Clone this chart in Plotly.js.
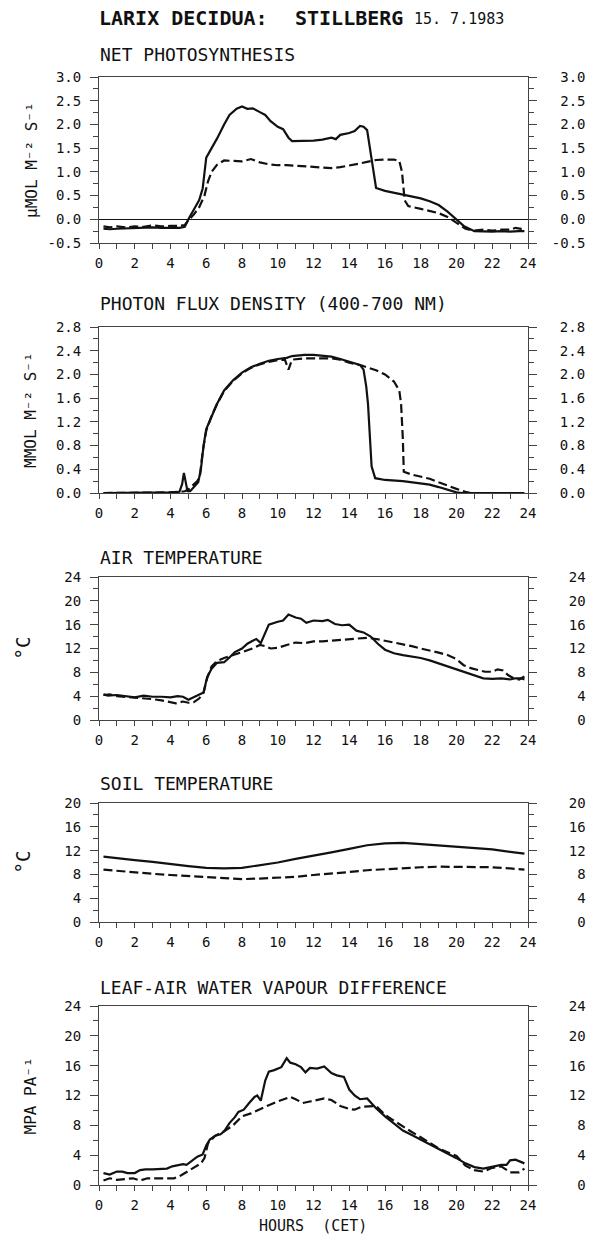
<!DOCTYPE html>
<html><head><meta charset="utf-8">
<script src="https://cdn.plot.ly/plotly-3.0.1.min.js"></script>
<style>html,body{margin:0;padding:0;background:#fff}</style>
</head><body>
<div id="chart" style="width:596px;height:1240px"></div>
<script>
// ---------- DATA ----------
const hourTickVals = [0,2,4,6,8,10,12,14,16,18,20,22,24];
const hourTickText = ['0','2','4','6','8','10','12','14','16','18','20','22','24'];

const netPhotoTickVals = [-0.5,0,0.5,1,1.5,2,2.5,3];
const netPhotoTickText = ['-0.5','0.0','0.5','1.0','1.5','2.0','2.5','3.0'];
const pfdTickVals = [0,0.4,0.8,1.2,1.6,2.0,2.4,2.8];
const pfdTickText = ['0.0','0.4','0.8','1.2','1.6','2.0','2.4','2.8'];
const airTickVals = [0,4,8,12,16,20,24];
const airTickText = ['0','4','8','12','16','20','24'];
const soilTickVals = [0,4,8,12,16,20];
const soilTickText = ['0','4','8','12','16','20'];
const vpdTickVals = [0,4,8,12,16,20,24];
const vpdTickText = ['0','4','8','12','16','20','24'];

// [hour, value]
const netPhotoSolid = [[0.25,-0.2],[0.6,-0.21],[1,-0.2],[1.5,-0.19],[2,-0.19],[2.5,-0.18],[3,-0.17],[3.5,-0.18],[4,-0.18],[4.5,-0.18],[4.8,-0.16],[5.0,0.0],[5.3,0.2],[5.6,0.4],[5.8,0.65],[6.0,1.3],[6.3,1.5],[6.6,1.7],[7.0,2.0],[7.3,2.2],[7.7,2.33],[8.0,2.38],[8.3,2.33],[8.6,2.34],[9.0,2.26],[9.3,2.2],[9.6,2.07],[10.0,1.95],[10.3,1.9],[10.6,1.72],[10.8,1.65],[11.2,1.65],[11.6,1.66],[12.0,1.66],[12.5,1.68],[13.0,1.72],[13.25,1.69],[13.5,1.78],[14.0,1.82],[14.3,1.86],[14.6,1.97],[14.8,1.95],[15.0,1.88],[15.2,1.35],[15.5,0.66],[16.0,0.6],[16.5,0.56],[17.0,0.52],[17.5,0.48],[18.0,0.44],[18.5,0.38],[19.0,0.3],[19.5,0.16],[19.9,0.02],[20.4,-0.14],[21.0,-0.25],[21.5,-0.26],[22.0,-0.26],[22.5,-0.25],[23.0,-0.26],[23.5,-0.25],[23.8,-0.25]];
const netPhotoDashed = [[0.25,-0.15],[0.6,-0.17],[1,-0.15],[1.5,-0.17],[2,-0.15],[2.5,-0.16],[3,-0.13],[3.5,-0.15],[4,-0.14],[4.5,-0.14],[4.8,-0.12],[5.0,-0.02],[5.3,0.1],[5.6,0.25],[5.9,0.5],[6.1,0.8],[6.3,1.0],[6.6,1.15],[7.0,1.24],[7.5,1.23],[8.0,1.22],[8.5,1.27],[9.0,1.2],[9.5,1.16],[10.0,1.14],[10.5,1.14],[11.0,1.13],[11.5,1.12],[12.0,1.11],[12.5,1.09],[13.0,1.08],[13.5,1.1],[14.0,1.13],[14.5,1.17],[15.0,1.21],[15.5,1.25],[16.0,1.26],[16.5,1.26],[16.8,1.23],[16.95,1.0],[17.1,0.4],[17.3,0.28],[18.0,0.22],[18.5,0.18],[19.0,0.13],[19.5,0.05],[20.0,-0.07],[20.5,-0.2],[21.0,-0.24],[21.5,-0.22],[22.0,-0.24],[22.5,-0.22],[23.0,-0.22],[23.3,-0.18],[23.6,-0.2],[23.8,-0.17]];

const pfdSolid = [[0.25,0],[2,0],[3,0.01],[4,0.01],[4.5,0.02],[4.65,0.15],[4.75,0.34],[4.85,0.15],[4.95,0.03],[5.1,0.03],[5.3,0.1],[5.55,0.18],[5.7,0.4],[5.85,0.8],[6.0,1.08],[6.3,1.3],[6.6,1.5],[7.0,1.73],[7.5,1.9],[8.0,2.03],[8.5,2.12],[9.0,2.18],[9.5,2.23],[10.0,2.26],[10.5,2.28],[10.8,2.31],[11.5,2.33],[12.0,2.33],[12.5,2.32],[13.0,2.3],[13.5,2.26],[14.0,2.21],[14.6,2.16],[14.8,2.08],[14.95,1.8],[15.05,1.5],[15.15,0.9],[15.25,0.45],[15.45,0.25],[16.0,0.22],[17.0,0.2],[18.0,0.16],[18.5,0.14],[19.0,0.1],[19.5,0.05],[20.0,0.01],[20.3,0],[23.8,0]];
const pfdDashed = [[0.25,0],[2,0],[3,0.01],[4,0.01],[4.5,0.02],[4.8,0.03],[5.0,0.06],[5.2,0.12],[5.5,0.2],[5.65,0.3],[5.8,0.7],[6.0,1.05],[6.3,1.3],[6.6,1.5],[7.0,1.72],[7.5,1.89],[8.0,2.02],[8.5,2.11],[9.0,2.17],[9.5,2.21],[10.0,2.24],[10.4,2.25],[10.6,2.08],[10.8,2.25],[11.5,2.27],[12.0,2.27],[13.0,2.27],[13.5,2.25],[14.0,2.2],[14.7,2.15],[15.5,2.07],[16.0,2.0],[16.5,1.88],[16.8,1.73],[16.9,1.5],[17.0,0.9],[17.05,0.36],[17.5,0.31],[18.0,0.28],[18.5,0.24],[19.0,0.18],[19.5,0.12],[20.0,0.07],[20.5,0.02],[20.8,0],[23.8,0]];

const airSolid = [[0.25,4.3],[0.5,4.1],[1,4.2],[1.5,4.0],[2,3.8],[2.5,4.1],[3,3.9],[3.5,3.9],[4,3.8],[4.4,4.0],[4.7,3.9],[5.0,3.4],[5.3,3.8],[5.6,4.3],[5.85,4.6],[6.05,7.2],[6.3,8.6],[6.6,9.6],[7.0,9.7],[7.3,10.5],[7.6,11.4],[8.0,12.0],[8.3,12.8],[8.6,13.3],[8.8,13.6],[9.05,12.9],[9.5,16.0],[10.0,16.5],[10.3,16.7],[10.6,17.7],[11.0,17.2],[11.3,17.0],[11.6,16.3],[12.0,16.7],[12.5,16.6],[12.8,16.8],[13.2,16.1],[13.6,15.9],[14.0,16.0],[14.4,15.0],[14.8,14.7],[15.2,14.0],[15.6,12.8],[16.0,11.8],[16.5,11.2],[17.0,10.9],[17.5,10.7],[18.0,10.4],[18.5,10.0],[19.0,9.5],[19.5,9.0],[20.0,8.5],[20.5,8.0],[21.0,7.5],[21.5,7.0],[22.0,6.9],[22.5,7.0],[23.0,6.8],[23.3,7.0],[23.6,7.0],[23.8,6.8]];
const airDashed = [[0.25,4.2],[0.6,4.3],[1,4.0],[1.5,3.9],[2,3.7],[2.5,3.6],[3,3.5],[3.5,3.3],[4,3.0],[4.3,2.8],[4.7,3.1],[5.0,2.9],[5.3,3.0],[5.6,3.6],[5.85,4.6],[6.05,7.0],[6.3,9.0],[6.6,9.9],[7.0,10.4],[7.5,10.9],[8.0,11.4],[8.5,11.9],[9.0,12.6],[9.3,12.4],[9.6,12.0],[10.0,12.1],[10.5,12.6],[11.0,13.0],[11.5,12.9],[12.0,13.2],[12.5,13.2],[13.0,13.3],[13.5,13.4],[14.0,13.6],[14.5,13.7],[15.0,13.8],[15.5,13.6],[16.0,13.3],[16.5,13.0],[17.0,12.8],[17.5,12.4],[18.0,12.0],[18.5,11.7],[19.0,11.3],[19.5,10.9],[20.0,10.2],[20.4,9.2],[20.8,8.7],[21.2,8.4],[21.6,8.1],[22.0,8.1],[22.3,8.5],[22.6,8.3],[22.9,7.5],[23.2,7.0],[23.5,6.8],[23.8,7.3]];

const soilSolid = [[0.25,11.0],[1,10.7],[2,10.4],[3,10.1],[4,9.7],[5,9.4],[6,9.1],[7,9.0],[8,9.1],[9,9.5],[10,10.0],[11,10.6],[12,11.1],[13,11.7],[14,12.3],[15,12.9],[16,13.2],[17,13.3],[18,13.1],[19,12.9],[20,12.7],[21,12.5],[22,12.2],[23,11.8],[23.8,11.5]];
const soilDashed = [[0.25,8.8],[1,8.6],[2,8.3],[3,8.1],[4,7.9],[5,7.7],[6,7.5],[7,7.3],[8,7.2],[9,7.3],[10,7.4],[11,7.6],[12,7.9],[13,8.1],[14,8.4],[15,8.7],[16,8.9],[17,9.1],[18,9.2],[19,9.3],[20,9.3],[21,9.3],[22,9.2],[23,9.0],[23.8,8.8]];

const vpdSolid = [[0.25,1.6],[0.6,1.4],[1.0,1.8],[1.3,1.8],[1.6,1.6],[2.0,1.6],[2.3,2.0],[2.6,2.1],[3.0,2.1],[3.5,2.1],[3.8,2.2],[4.1,2.5],[4.4,2.7],[4.7,2.8],[4.9,2.7],[5.2,3.3],[5.5,3.8],[5.8,4.1],[6.0,5.3],[6.2,6.1],[6.5,6.6],[6.8,6.8],[7.0,7.2],[7.3,8.3],[7.6,9.1],[7.8,9.8],[8.1,10.1],[8.4,11.0],[8.7,11.8],[8.85,12.0],[9.05,11.3],[9.3,14.0],[9.5,15.2],[9.8,15.4],[10.2,15.8],[10.5,17.0],[10.7,16.4],[11.0,16.2],[11.3,15.8],[11.55,15.1],[11.8,15.7],[12.2,15.6],[12.6,15.9],[13.0,15.0],[13.3,14.7],[13.7,14.5],[14.0,12.8],[14.3,12.0],[14.6,11.5],[15.0,11.6],[15.5,10.3],[16.0,9.2],[16.5,8.2],[17.0,7.3],[17.5,6.7],[18.0,6.1],[18.5,5.5],[19.0,4.8],[19.5,4.2],[20.0,3.6],[20.5,2.9],[21.0,2.4],[21.5,2.2],[22.0,2.4],[22.5,2.7],[22.8,2.7],[23.0,3.3],[23.3,3.4],[23.6,3.1],[23.8,2.9]];
const vpdDashed = [[0.25,0.6],[0.6,0.9],[1.0,0.7],[1.5,0.8],[1.9,0.9],[2.3,0.6],[2.7,0.9],[3.2,0.9],[3.7,0.9],[4.2,0.9],[4.6,1.3],[5.0,1.9],[5.4,2.4],[5.7,2.9],[5.9,3.6],[6.1,5.6],[6.5,6.6],[7.0,7.2],[7.5,8.0],[8.0,9.2],[8.5,9.6],[9.0,10.2],[9.5,10.7],[10.0,11.2],[10.4,11.5],[10.7,11.8],[11.0,11.5],[11.4,11.0],[11.8,11.2],[12.2,11.4],[12.6,11.6],[13.0,11.4],[13.5,10.6],[14.0,10.2],[14.3,10.1],[14.7,10.5],[15.0,10.5],[15.5,10.6],[16.0,9.4],[16.5,8.6],[17.0,7.8],[17.5,7.1],[18.0,6.4],[18.5,5.7],[19.0,4.9],[19.5,4.4],[20.0,3.9],[20.5,2.6],[21.0,2.0],[21.5,1.8],[22.0,2.3],[22.5,2.5],[23.0,1.7],[23.5,1.7],[23.8,2.2]];

// ---------- LAYOUT ----------
const W = 596, H = 1240;
const FONT = 'DejaVu Sans Mono, monospace';
const INK = '#111';
const FRAME = '#444';
const py = p => 1 - p / H;
const px = p => p / W;

const panels = [
  {solid: netPhotoSolid, dashed: netPhotoDashed, range:[-0.5,3.0], vals: netPhotoTickVals, text: netPhotoTickText, minor:0.25,
   top:77, bottom:243, title:'NET PHOTOSYNTHESIS', titleY:55, ytitle:'\u03bcMOL\u00a0M\u207b\u00b2\u00a0S\u207b\u00b9', ytitleX:31, ysize:16, zero:true, rstand:12},
  {solid: pfdSolid, dashed: pfdDashed, range:[0,2.8], vals: pfdTickVals, text: pfdTickText, minor:0.2,
   top:327, bottom:493, title:'PHOTON FLUX DENSITY (400-700 NM)', titleY:304, ytitle:'MMOL\u00a0M\u207b\u00b2\u00a0S\u207b\u00b9', ytitleX:31, ysize:16, zero:false, rstand:20},
  {solid: airSolid, dashed: airDashed, range:[0,24], vals: airTickVals, text: airTickText, minor:2,
   top:577, bottom:720, title:'AIR TEMPERATURE', titleY:557, ytitle:'\u00b0C', ytitleX:22, ysize:19, zero:false, rstand:29},
  {solid: soilSolid, dashed: soilDashed, range:[0,20], vals: soilTickVals, text: soilTickText, minor:2,
   top:803, bottom:922, title:'SOIL TEMPERATURE', titleY:783, ytitle:'\u00b0C', ytitleX:22, ysize:19, zero:false, rstand:29},
  {solid: vpdSolid, dashed: vpdDashed, range:[0,24], vals: vpdTickVals, text: vpdTickText, minor:2,
   top:1006, bottom:1185, title:'LEAF-AIR WATER VAPOUR DIFFERENCE', titleY:987, ytitle:'MPA\u00a0PA\u207b\u00b9', ytitleX:30, ysize:16, zero:false, rstand:29}
];

const pad = (arr) => { const n = Math.max(...arr.map(s => s.length)); return arr.map(s => '\u00a0'.repeat(n - s.length) + s); };

const traces = [];
const layout = {
  width: W, height: H, margin: {l:0, r:0, t:0, b:0},
  paper_bgcolor: '#fff', plot_bgcolor: 'rgba(0,0,0,0)',
  showlegend: false,
  font: {family: FONT, size: 14, color: INK},
  annotations: []
};

panels.forEach((p, i) => {
  const n = i + 1, nr = i + 6;
  const xa = 'xaxis' + n, ya = 'yaxis' + n, yr = 'yaxis' + nr;
  traces.push({x: p.solid.map(d => d[0]), y: p.solid.map(d => d[1]), xaxis: 'x' + n, yaxis: 'y' + n,
    type: 'scatter', mode: 'lines', line: {color: INK, width: 2.2}, hoverinfo: 'skip'});
  traces.push({x: p.dashed.map(d => d[0]), y: p.dashed.map(d => d[1]), xaxis: 'x' + n, yaxis: 'y' + nr,
    type: 'scatter', mode: 'lines', line: {color: INK, width: 2.2, dash: '9px,4px'}, hoverinfo: 'skip'});

  layout[xa] = {domain: [px(99), px(528)], range: [0, 24], anchor: 'y' + n,
    tickmode: 'array', tickvals: hourTickVals, ticktext: hourTickText,
    ticks: 'outside', ticklen: 5, tickwidth: 1, tickcolor: FRAME, ticklabelstandoff: 2,
    minor: {tickmode: 'linear', tick0: 0, dtick: 1, ticks: 'outside', ticklen: 5, tickwidth: 1, tickcolor: FRAME, showgrid: false},
    showline: true, linecolor: FRAME, linewidth: 1, mirror: true, showgrid: false, zeroline: false,
    tickfont: {family: FONT, size: 14, color: INK}, fixedrange: true};
  const yCommon = {domain: [py(p.bottom), py(p.top)], range: p.range, tickmode: 'array', tickvals: p.vals,
    ticks: 'outside', ticklen: 8, tickwidth: 1, tickcolor: FRAME,
    minor: {tickmode: 'linear', tick0: p.range[0], dtick: p.minor, ticks: 'outside', ticklen: 5, tickwidth: 1, tickcolor: FRAME, showgrid: false},
    showline: true, linecolor: FRAME, linewidth: 1, showgrid: false,
    tickfont: {family: FONT, size: 14, color: INK}, fixedrange: true};
  layout[ya] = Object.assign({}, yCommon, {anchor: 'x' + n, side: 'left', ticktext: p.text, ticklabelstandoff: 6,
    zeroline: p.zero, zerolinecolor: INK, zerolinewidth: 1});
  layout[yr] = Object.assign({}, yCommon, {anchor: 'x' + n, side: 'right', overlaying: 'y' + n,
    ticktext: pad(p.text), ticklabelstandoff: p.rstand, zeroline: false});

  layout.annotations.push({xref: 'paper', yref: 'paper', x: px(98), y: py(p.titleY), xanchor: 'left', yanchor: 'middle',
    text: p.title, showarrow: false, font: {family: FONT, size: 18, color: INK}});
  layout.annotations.push({xref: 'paper', yref: 'paper', x: px(p.ytitleX), y: py((p.top + p.bottom) / 2), xanchor: 'center', yanchor: 'middle',
    text: p.ytitle, textangle: -90, showarrow: false, font: {family: FONT, size: p.ysize, color: INK}});
});

layout.annotations.push({xref: 'paper', yref: 'paper', x: px(97), y: py(18), xanchor: 'left', yanchor: 'middle',
  text: '<b>LARIX DECIDUA:</b>', showarrow: false, font: {family: FONT, size: 20, color: INK}});
layout.annotations.push({xref: 'paper', yref: 'paper', x: px(293), y: py(18), xanchor: 'left', yanchor: 'middle',
  text: '<b>STILLBERG</b>', showarrow: false, font: {family: FONT, size: 20, color: INK}});
layout.annotations.push({xref: 'paper', yref: 'paper', x: px(412), y: py(19), xanchor: 'left', yanchor: 'middle',
  text: '15.\u00a07.1983', showarrow: false, font: {family: FONT, size: 15, color: INK}});
layout.annotations.push({xref: 'paper', yref: 'paper', x: px(313), y: py(1226), xanchor: 'center', yanchor: 'middle',
  text: 'HOURS\u00a0\u00a0(CET)', showarrow: false, font: {family: FONT, size: 15, color: INK}});

Plotly.newPlot('chart', traces, layout, {staticPlot: true, displayModeBar: false});
</script>
</body></html>
